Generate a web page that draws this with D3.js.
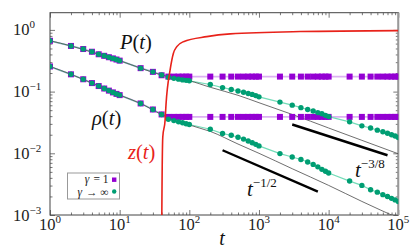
<!DOCTYPE html>
<html>
<head>
<meta charset="utf-8">
<script src="https://cdn.jsdelivr.net/npm/d3@7"></script>
<style>
  body { margin: 0; background: #fff; }
  svg { display: block; }
  text { font-family: "Liberation Serif", "DejaVu Serif", serif; }
</style>
</head>
<body>
<div id="chart"></div>
<script>
// sampling times (shared by both simulations)
const times = [1,2,3,4,5,6,7,8,9,
  10,20,30,40,50,60,70,80,90,
  100,200,300,400,500,600,700,800,900,
  1000,2000,3000,4000,5000,6000,7000,8000,9000,
  10000,20000,30000,40000,50000,60000,70000,80000,90000,100000];

// log10 values
const pGammaInf = [-0.176,-0.26,-0.31,-0.354,-0.395,-0.42,-0.443,-0.462,-0.48,
  -0.498,-0.62,-0.68,-0.73,-0.768,-0.785,-0.798,-0.81,-0.818,
  -0.825,-0.885,-0.935,-0.965,-0.99,-1.01,-1.03,-1.045,-1.065,
  -1.085,-1.17,-1.22,-1.26,-1.29,-1.315,-1.34,-1.36,-1.385,
  -1.405,-1.49,-1.555,-1.59,-1.625,-1.65,-1.675,-1.7,-1.72,-1.745];
const pGamma1 = [-0.176,-0.26,-0.31,-0.354,-0.395,-0.42,-0.443,-0.462,-0.48,
  -0.498,-0.62,-0.68,-0.735,-0.757,-0.757,-0.757,-0.757,-0.757,
  -0.757,-0.757,-0.757,-0.757,-0.757,-0.757,-0.757,-0.757,-0.757,
  -0.757,-0.757,-0.757,-0.757,-0.757,-0.757,-0.757,-0.757,-0.757,
  -0.757,-0.757,-0.757,-0.757,-0.757,-0.757,-0.757,-0.757,-0.757,-0.757];
const rhoGammaInf = [-0.593,-0.72,-0.80,-0.862,-0.91,-0.95,-0.984,-1.013,-1.037,
  -1.057,-1.192,-1.29,-1.37,-1.447,-1.47,-1.49,-1.505,-1.52,
  -1.533,-1.61,-1.68,-1.707,-1.74,-1.77,-1.80,-1.83,-1.855,
  -1.88,-2.005,-2.06,-2.10,-2.14,-2.18,-2.22,-2.26,-2.29,
  -2.32,-2.45,-2.52,-2.59,-2.63,-2.67,-2.70,-2.73,-2.755,-2.78];
const rhoGamma1 = [-0.593,-0.72,-0.80,-0.862,-0.91,-0.95,-0.984,-1.013,-1.037,
  -1.057,-1.192,-1.29,-1.37,-1.41,-1.41,-1.41,-1.41,-1.41,
  -1.41,-1.41,-1.41,-1.41,-1.41,-1.41,-1.41,-1.41,-1.41,
  -1.41,-1.41,-1.41,-1.41,-1.41,-1.41,-1.41,-1.41,-1.41,
  -1.41,-1.41,-1.41,-1.41,-1.41,-1.41,-1.41,-1.41,-1.41,-1.41];

// thin reference curves (no markers)
const refTimes = [1,2,5,10,20,40,70,100,200,500,1000,3000,10000,30000,100000];
const pRef   = [-0.176,-0.26,-0.395,-0.498,-0.62,-0.73,-0.79,-0.825,-0.93,-1.06,-1.18,-1.37,-1.59,-1.79,-2.008];
const rhoRef = [-0.593,-0.72,-0.91,-1.057,-1.192,-1.37,-1.47,-1.54,-1.645,-1.85,-2.0,-2.25,-2.52,-2.78,-3.05];

// z(t)
const zTimes  = [40,40.3,41.6,44.9,46.4,53,59.1,66.1,82.3,178,386,3900,100000];
const zValues = [0.0001,0.001,0.0184,0.0344,0.0645,0.224,0.418,0.535,0.645,0.778,0.861,0.94,0.975];

// power-law guides: [t0, y0, t1, y1]
const guideHalf   = [300, 0.0112, 7000, 0.0024];
const guideThreeE = [3000, 0.0293, 70000, 0.0093];

const xMajor = [1,10,100,1000,10000,100000];
const xMajorExp = ['0','1','2','3','4','5'];
const yMajor = [0.001,0.01,0.1,1];
const yMajorExp = ['\u22123','\u22122','\u22121','0'];

const W = 415, H = 249;
const x = d3.scaleLog().domain([1, 1e5]).range([50, 398.3]);
const y = d3.scaleLog().domain([1e-3, 1.9]).range([215, 12.7]);

const xMinor = [], yMinor = [];
for (let k = 0; k < 5; k++) for (let m = 2; m < 10; m++) xMinor.push(m * 10 ** k);
for (let k = -3; k <= 0; k++) for (let m = 2; m < 10; m++) if (m * 10 ** k < 1.9) yMinor.push(m * 10 ** k);

const svg = d3.select('#chart').append('svg')
  .attr('width', W).attr('height', H);

svg.append('defs').append('clipPath').attr('id', 'plot')
  .append('rect').attr('x', 50).attr('y', 12.7).attr('width', 348.3).attr('height', 202.3);

// ticks on all four sides, pointing in
function ticks(axis, vals, size, tr) {
  const g = svg.append('g').attr('transform', tr)
    .call(axis.tickValues(vals).tickSize(-size).tickFormat(''));
  g.select('.domain').remove();
  g.selectAll('line').attr('stroke', '#555').attr('stroke-width', 0.8);
}
ticks(d3.axisBottom(x), xMajor, 5, 'translate(0,215)');
ticks(d3.axisBottom(x), xMinor, 2.5, 'translate(0,215)');
ticks(d3.axisTop(x), xMajor, 5, 'translate(0,12.7)');
ticks(d3.axisTop(x), xMinor, 2.5, 'translate(0,12.7)');
ticks(d3.axisLeft(y), yMajor, 5, 'translate(50,0)');
ticks(d3.axisLeft(y), yMinor, 2.5, 'translate(50,0)');
ticks(d3.axisRight(y), yMajor, 5, 'translate(398.3,0)');
ticks(d3.axisRight(y), yMinor, 2.5, 'translate(398.3,0)');

// frame
svg.append('rect').attr('x', 50).attr('y', 12.7).attr('width', 348.3).attr('height', 202.3)
  .attr('fill', 'none').attr('stroke', '#444').attr('stroke-width', 1);
svg.append('line').attr('x1', 398.3).attr('x2', 398.3).attr('y1', 12.7).attr('y2', 215)
  .attr('stroke', '#999').attr('stroke-width', 2);

// tick labels
xMajor.forEach((v, i) => {
  const t = svg.append('text').attr('x', x(v)).attr('y', 230)
    .attr('text-anchor', 'middle').attr('font-size', 16.5).attr('fill', '#222');
  t.append('tspan').text('10');
  t.append('tspan').attr('dy', -7).attr('font-size', 11).text(xMajorExp[i]);
});
yMajor.forEach((v, i) => {
  const t = svg.append('text').attr('x', 13).attr('y', y(v) + 5.5)
    .attr('font-size', 16.5).attr('fill', '#222');
  t.append('tspan').text('10');
  t.append('tspan').attr('dy', -7).attr('font-size', 11).text(yMajorExp[i]);
});

const plot = svg.append('g').attr('clip-path', 'url(#plot)');
const series = vals => times.map((t, i) => [t, 10 ** vals[i]]);
const line = d3.line().x(d => x(d[0])).y(d => y(d[1]));

// connecting lines
[pGamma1, rhoGamma1].forEach(s => plot.append('path').datum(series(s))
  .attr('d', line).attr('fill', 'none').attr('stroke', '#dcb2f2').attr('stroke-width', 1.8));
[pGammaInf, rhoGammaInf].forEach(s => plot.append('path').datum(series(s))
  .attr('d', line).attr('fill', 'none').attr('stroke', '#74dcb8').attr('stroke-width', 1.2));
const smooth = d3.line().x(d => x(d[0])).y(d => y(d[1])).curve(d3.curveMonotoneX);
[pRef, rhoRef].forEach(s => plot.append('path')
  .datum(refTimes.map((t, i) => [t, 10 ** s[i]]))
  .attr('d', smooth).attr('fill', 'none')
  .attr('stroke', '#4a4a4a').attr('stroke-width', 0.8));

// markers
[pGamma1, rhoGamma1].forEach(s => plot.append('g').selectAll('rect')
  .data(series(s)).join('rect')
  .attr('x', d => x(d[0]) - 3).attr('y', d => y(d[1]) - 3)
  .attr('width', 6).attr('height', 6).attr('fill', '#9400d3'));
[pGammaInf, rhoGammaInf].forEach(s => plot.append('g').selectAll('circle')
  .data(series(s)).join('circle')
  .attr('cx', d => x(d[0])).attr('cy', d => y(d[1]))
  .attr('r', 2.7).attr('fill', '#009e73'));

// z(t)
plot.append('path').datum(zTimes.map((t, i) => [t, zValues[i]]))
  .attr('d', smooth)
  .attr('fill', 'none').attr('stroke', '#e8221a').attr('stroke-width', 1.6);

// guides
[guideHalf, guideThreeE].forEach(g => plot.append('line')
  .attr('x1', x(g[0])).attr('y1', y(g[1])).attr('x2', x(g[2])).attr('y2', y(g[3]))
  .attr('stroke', '#000').attr('stroke-width', 2.4));

// annotations
function label(xp, yp, parts, color, size) {
  const t = svg.append('text').attr('x', xp).attr('y', yp)
    .attr('font-size', size).attr('fill', color);
  parts.forEach(p => {
    const s = t.append('tspan').text(p.s);
    if (p.i) s.attr('font-style', 'italic');
    if (p.up) s.attr('dy', p.up).attr('font-size', p.fs);
  });
}
label(120, 48.5, [{s: 'P', i: 1}, {s: '('}, {s: 't', i: 1}, {s: ')'}], '#111', 20.5);
label(92, 125, [{s: '\u03c1', i: 1}, {s: '('}, {s: 't', i: 1}, {s: ')'}], '#111', 20.5);
label(128, 158.5, [{s: 'z', i: 1}, {s: '('}, {s: 't', i: 1}, {s: ')'}], '#e8221a', 20.5);
label(247, 196, [{s: 't', i: 1}, {s: '\u22121/2', up: -9, fs: 13}], '#111', 21);
label(355, 176.5, [{s: 't', i: 1}, {s: '\u22123/8', up: -9, fs: 13}], '#111', 21);
svg.append('text').attr('x', 222).attr('y', 245).attr('text-anchor', 'middle')
  .attr('font-size', 20).attr('font-style', 'italic').attr('fill', '#111').text('t');

// legend
const legendLabels = ['= 1', '\u2192 \u221e'];
const lg = svg.append('g');
lg.append('rect').attr('x', 67.5).attr('y', 173).attr('width', 52).attr('height', 26)
  .attr('fill', '#fff').attr('stroke', '#999').attr('stroke-width', 1);
legendLabels.forEach((s, i) => {
  const yy = 183 + i * 12.5;
  const rest = lg.append('text').attr('x', 108.5).attr('y', yy).attr('text-anchor', 'end')
    .attr('font-size', 11.5).attr('fill', '#222').text(s);
  const w = rest.node().getComputedTextLength();
  lg.append('text').attr('x', 108.5 - w - 4).attr('y', yy).attr('text-anchor', 'end')
    .attr('font-size', 11.5).attr('font-style', 'italic').attr('fill', '#222').text('\u03b3');
});
lg.append('rect').attr('x', 112).attr('y', 177.5).attr('width', 4.4).attr('height', 4.4).attr('fill', '#9400d3');
lg.append('circle').attr('cx', 114.2).attr('cy', 191.5).attr('r', 2.2).attr('fill', '#009e73');
</script>
</body>
</html>
